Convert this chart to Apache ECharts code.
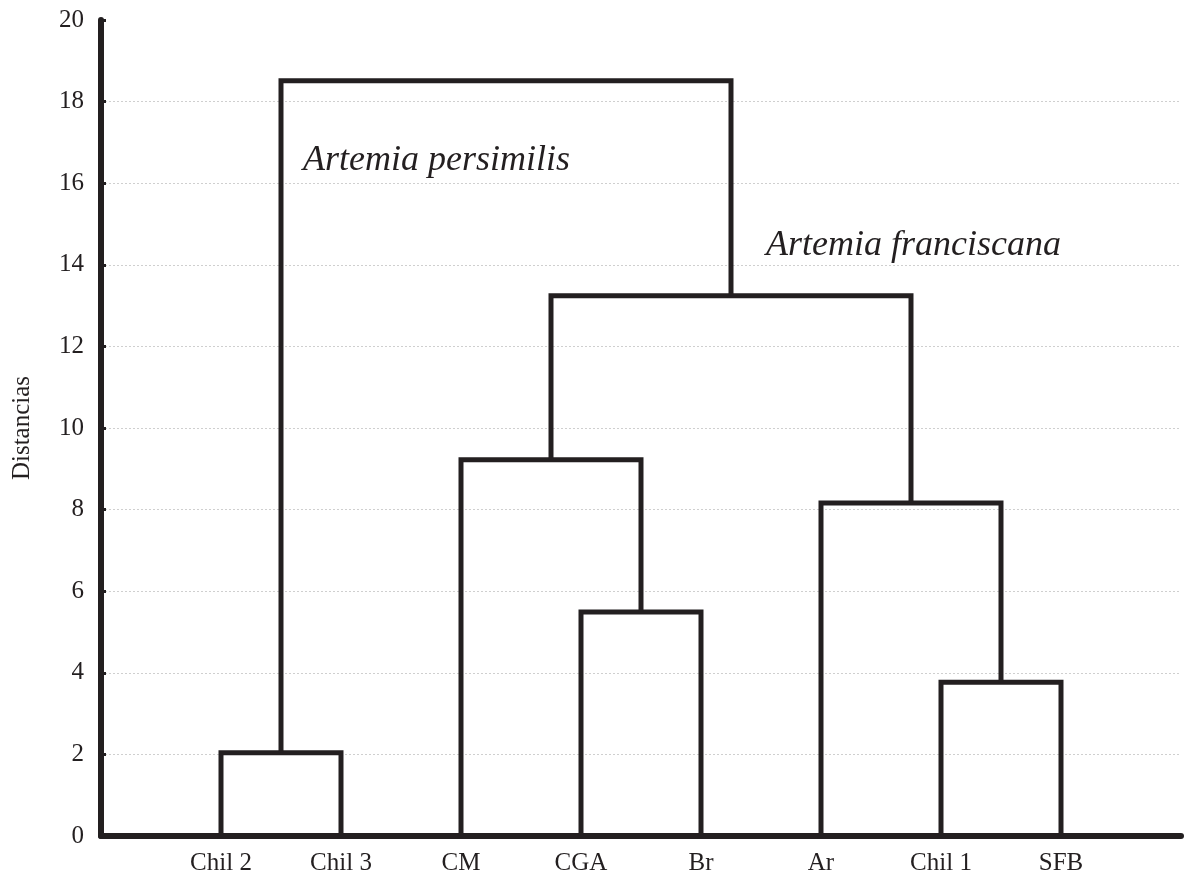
<!DOCTYPE html>
<html>
<head>
<meta charset="utf-8">
<script src="https://cdn.jsdelivr.net/npm/echarts@6/dist/echarts.min.js"></script>
<style>
html, body { margin: 0; padding: 0; background: #fff; }
#main { width: 1185px; height: 880px; }
</style>
</head>
<body>
<div id="main"></div>
<script>
// hojas del dendrograma, en orden
var leaves = ['Chil 2', 'Chil 3', 'CM', 'CGA', 'Br', 'Ar', 'Chil 1', 'SFB'];
// uniones: [izquierda, derecha, distancia]; nodos >= 8 son uniones previas
var merges = [
	[0, 1, 2.04],    // 8
	[3, 4, 5.49],    // 9
	[6, 7, 3.77],    // 10
	[2, 9, 9.22],    // 11
	[5, 10, 8.16],   // 12
	[11, 12, 13.24], // 13
	[8, 13, 18.51]   // 14
];
var yTicks = [0, 2, 4, 6, 8, 10, 12, 14, 16, 18, 20];

var ink = '#231f20';
var serif = '"Liberation Serif", "DejaVu Serif", serif';

// posicion (x, altura) de cada nodo
var nodes = leaves.map(function(name, i) {
	return { x: i + 1, y: 0 };
});
var series = [];
merges.forEach(function(m) {
	var a = nodes[m[0]], b = nodes[m[1]], h = m[2];
	nodes.push({ x: (a.x + b.x) / 2, y: h });
	series.push({
		type: 'line',
		data: [[a.x, a.y], [a.x, h], [b.x, h], [b.x, b.y]],
		symbol: 'none',
		silent: true,
		animation: false,
		lineStyle: { color: ink, width: 5, join: 'miter', cap: 'butt' },
		z: 3
	});
});

var myChart = echarts.init(document.getElementById('main'));

var option = {
	backgroundColor: '#fff',
	grid: { left: 101, right: 4, top: 20, bottom: 44 },
	xAxis: {
		type: 'value',
		min: 0,
		max: 9,
		interval: 1,
		axisLine: { lineStyle: { color: ink, width: 6 } },
		axisTick: { show: true, inside: true, length: 5, lineStyle: { color: ink, width: 3 } },
		splitLine: { show: false },
		axisLabel: {
			color: ink,
			fontFamily: serif,
			fontSize: 25,
			margin: 15,
			showMinLabel: false,
			showMaxLabel: false,
			formatter: function(v) {
				return leaves[v - 1] || '';
			}
		}
	},
	yAxis: {
		type: 'value',
		min: yTicks[0],
		max: yTicks[yTicks.length - 1],
		interval: yTicks[1] - yTicks[0],
		name: 'Distancias',
		nameLocation: 'middle',
		nameGap: 66,
		nameTextStyle: { color: ink, fontFamily: serif, fontSize: 25 },
		axisLine: { show: true, lineStyle: { color: ink, width: 6 } },
		axisTick: { show: true, inside: true, length: 5, lineStyle: { color: ink, width: 3 } },
		axisLabel: { color: ink, fontFamily: serif, fontSize: 25, margin: 17 },
		splitLine: {
			show: true,
			showMinLine: false,
			showMaxLine: false,
			lineStyle: { color: '#cfcfcf', width: 1, type: [2, 2] }
		}
	},
	graphic: [
		{
			type: 'text',
			left: 303,
			top: 143,
			style: {
				text: 'Artemia persimilis',
				fill: ink,
				font: 'italic 36px ' + serif
			}
		},
		{
			type: 'text',
			left: 766,
			top: 228,
			style: {
				text: 'Artemia franciscana',
				fill: ink,
				font: 'italic 36px ' + serif
			}
		}
	],
	series: series
};
myChart.setOption(option);
</script>
</body>
</html>
